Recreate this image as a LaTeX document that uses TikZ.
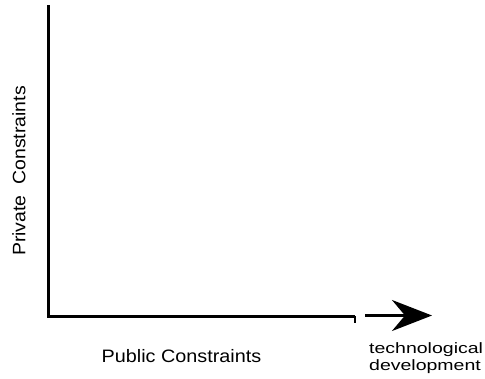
\documentclass[tikz,border=0pt]{standalone}
\usepackage{fontspec}
\setmainfont{Liberation Sans}
\usetikzlibrary{arrows.meta}
\begin{document}
\begin{tikzpicture}[x=1pt,y=-1pt,
  axis/.style={line width=3pt},
  lbl/.style={inner sep=0pt, font=\fontsize{18}{20}\selectfont},
  small/.style={inner sep=0pt, align=left, font=\fontsize{15}{17}\selectfont}]
\useasboundingbox (0,0) rectangle (485,378);
% axes
\coordinate (top) at (48.5,5);
\coordinate (origin) at (48.5,316);
\coordinate (xend) at (355,316);
\coordinate (tick) at (355,323);
\draw[axis, line join=miter] (top) -- (origin) -- (xend);
\draw[line width=2pt] (xend) -- (tick);
% development arrow
\coordinate (a0) at (365,315.5);
\coordinate (a1) at (432,315.5);
\draw[axis, -{Stealth[length=40pt, width=31pt, inset=13pt]}] (a0) -- (a1);
% labels
\node[lbl, rotate=90] (private) at (19,171) {\scalebox{1.08}[1]{Private\ \ Constraints}};
\node[lbl] (public) at (181.5,356) {\scalebox{1.1}[1]{Public Constraints}};
\node[small, anchor=north west] (tech) at (369,342) {\scalebox{1.3}[1]{technological}\\\scalebox{1.3}[1]{development}};
\end{tikzpicture}
\end{document}
